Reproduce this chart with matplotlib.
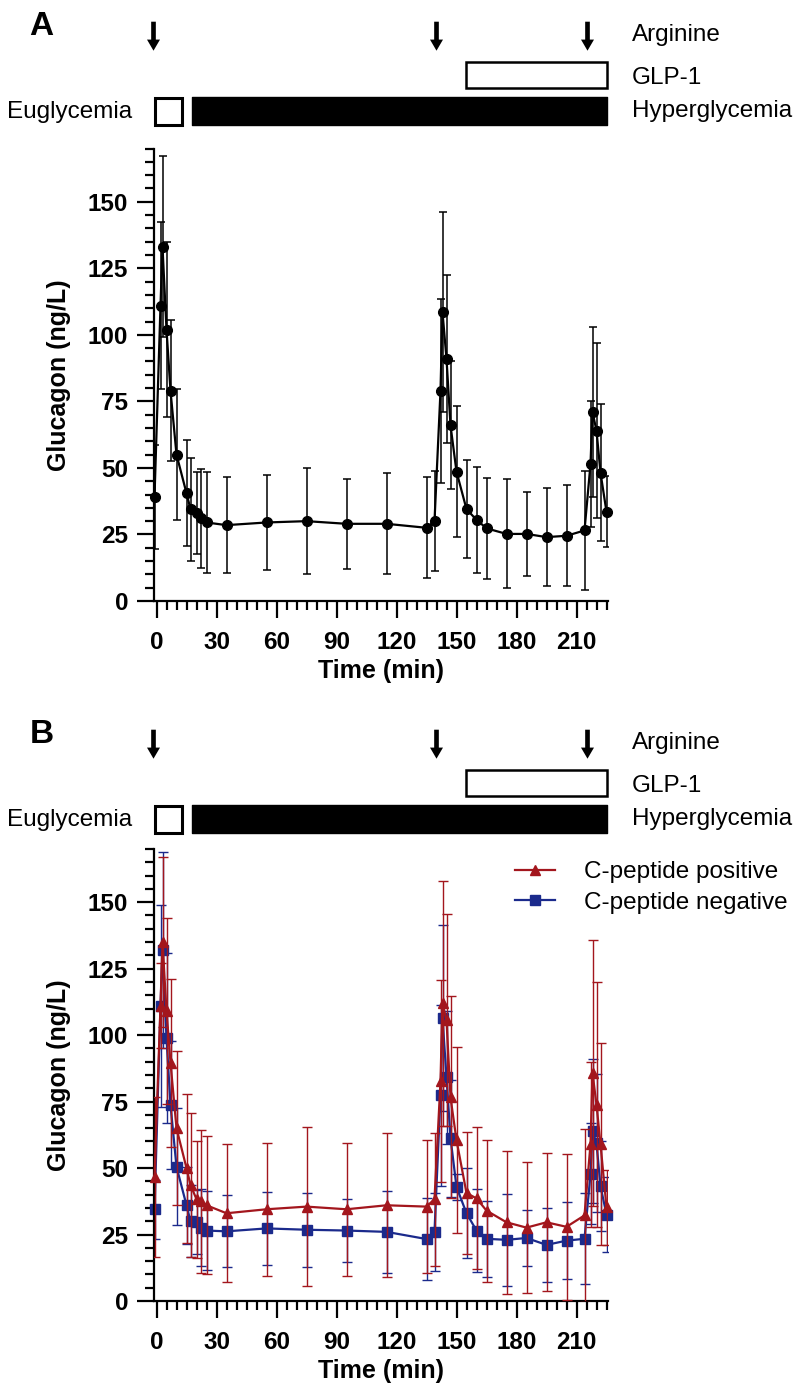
import matplotlib
matplotlib.use("Agg")
import matplotlib.pyplot as plt
from matplotlib.patches import Rectangle
from matplotlib.ticker import FixedLocator, MultipleLocator

plt.rcParams['font.family'] = ['Liberation Sans', 'DejaVu Sans']

# sampling times (min)
times = [-1, 2, 3, 5, 7, 10, 15, 17, 20, 22, 25, 35, 55, 75, 95, 115, 135, 139,
         142, 143, 145, 147, 150, 155, 160, 165, 175, 185, 195, 205, 214,
         217, 218, 220, 222, 225]

# panel A: all participants
glucagon_all = [39, 111, 133, 102, 79, 55, 40.5, 34.5, 33, 31, 29.5, 28.5, 29.5, 30, 29, 29,
                27.5, 30, 79, 108.5, 91, 66, 48.6, 34.5, 30.5, 27.3, 25.2, 25.2, 24, 24.5,
                26.5, 51.4, 71, 64, 48.2, 33.5]
err_all = [19.5, 31.5, 34, 33, 26.5, 24.5, 20, 19.3, 15.5, 18.5, 19, 18, 18, 20, 17, 19,
           19, 18.7, 34.5, 37.5, 31.5, 24, 24.6, 18.5, 20, 19, 20.5, 15.8, 18.5, 19,
           22.5, 23.7, 32, 33, 25.8, 13.4]

# panel B: C-peptide positive / negative
glucagon_pos = [46.7, 111, 135, 109, 89.6, 65, 50, 43.6, 38.3, 37.5, 36, 33, 34.5, 35.5, 34.5, 36,
                35.5, 38.3, 82.7, 112, 105.7, 76.6, 60.5, 40.6, 38.6, 34, 29.6, 27.6, 29.6, 27.9,
                32.2, 59, 85.8, 73.8, 59, 35.2]
err_pos = [30, 16, 32, 35, 31.5, 29, 28, 27, 22, 27, 26, 26, 25, 30, 25, 27,
           25, 25, 38, 46, 40, 38, 35, 23, 26.7, 26.7, 27, 24.7, 26, 27.5,
           32.5, 31, 50, 46, 38, 14]
glucagon_neg = [34.5, 111, 132, 98.8, 73.8, 50.5, 36, 30, 29.6, 27.6, 26.5, 26.2, 27.3, 26.8, 26.5, 26,
                23.3, 26, 77.3, 106.4, 84.2, 61.3, 42.9, 33, 26.5, 23.4, 23, 23.7, 21.1, 22.7,
                23.4, 47.8, 64, 59.3, 43.2, 32.5]
err_neg = [11, 38, 37, 32, 24, 22, 14.5, 13.5, 12, 14.5, 15, 13.5, 13.7, 14, 12, 15.4,
           15.4, 14.6, 34, 35, 25, 22, 5, 17, 15.7, 14.3, 17.4, 10.5, 13.8, 14.5,
           17.1, 19, 27, 26, 17, 14]

arginine_times = [-1.5, 140, 215.5]
label_pos = 'C-peptide positive'
label_neg = 'C-peptide negative'

W, H = 799, 1398
RED = '#a3161d'
BLUE = '#1b2a8c'

fig = plt.figure(figsize=(W / 100, H / 100), dpi=100)


def fx(px):
    return px / W


def fy(py):
    return 1 - py / H


XL, XR = 154, 607.7
XLIM = (-1.25, 225.6)


def make_axes(top, bottom):
    ax = fig.add_axes([fx(XL), fy(bottom), (XR - XL) / W, (bottom - top) / H])
    ax.set_xlim(*XLIM)
    ax.set_ylim(0, 170)
    for s in ['top', 'right']:
        ax.spines[s].set_visible(False)
    for s in ['left', 'bottom']:
        ax.spines[s].set_linewidth(1.6)
    ax.xaxis.set_major_locator(FixedLocator(range(0, 211, 30)))
    ax.xaxis.set_minor_locator(MultipleLocator(5))
    ax.yaxis.set_major_locator(FixedLocator(range(0, 151, 25)))
    ax.yaxis.set_minor_locator(MultipleLocator(5))
    ax.tick_params(which='major', length=12.5, width=1.6, labelsize=17.5)
    ax.tick_params(which='minor', length=6.5, width=1.6)
    ax.tick_params(axis='x', which='major', pad=9)
    ax.tick_params(axis='y', which='major', pad=6)
    for lab in ax.get_xticklabels() + ax.get_yticklabels():
        lab.set_fontweight('bold')
    ax.set_xlabel('Time (min)', fontsize=18, fontweight='bold')
    ax.set_ylabel('Glucagon (ng/L)', fontsize=18, fontweight='bold')
    ax.yaxis.set_label_coords((59 - XL) / (XR - XL), 0.5)
    ax.yaxis.label.set_va('center')
    return ax


def make_header(off, letter):
    hx = fig.add_axes([fx(XL), fy(off + 140), (XR - XL) / W, 140 / H])
    hx.set_xlim(*XLIM)
    hx.set_ylim(140, 0)
    hx.axis('off')
    for t in arginine_times:
        hx.annotate('', xy=(t, 50.7), xytext=(t, 21.7),
                    arrowprops=dict(arrowstyle='simple,head_length=1.0,head_width=1.17,tail_width=0.42',
                                    mutation_scale=8, color='black', lw=0, shrinkA=0, shrinkB=0),
                    annotation_clip=False)
    hx.add_patch(Rectangle((154.5, 62.3), 225 - 154.5, 88 - 62.3, facecolor='white',
                           edgecolor='black', lw=1.8, clip_on=False))
    hx.add_patch(Rectangle((17.6, 97.2), 225.3 - 17.6, 124.5 - 97.2, facecolor='black',
                           edgecolor='black', lw=1.0, joinstyle='round', clip_on=False))
    hx.add_patch(Rectangle((-0.85, 98.2), 12.65 + 0.85, 124.5 - 98.2, facecolor='white',
                           edgecolor='black', lw=2.2, clip_on=False))
    fig.text(fx(631.7), fy(off + 34.5), 'Arginine', fontsize=17.5, va='center', ha='left')
    fig.text(fx(631.7), fy(off + 77.5), 'GLP-1', fontsize=17.5, va='center', ha='left')
    fig.text(fx(631.7), fy(off + 111), 'Hyperglycemia', fontsize=17.5, va='center', ha='left')
    fig.text(fx(131.7), fy(off + 112), 'Euglycemia', fontsize=17.5, va='center', ha='right')
    fig.text(fx(41.5), fy(off + 35), letter, fontsize=24, fontweight='bold',
             va='baseline', ha='center')
    return hx


# panel A
axA = make_axes(148.5, 601)
make_header(0, 'A')
axA.errorbar(times, glucagon_all, yerr=err_all, fmt='none', ecolor='black',
             elinewidth=1.1, capsize=3, capthick=1.1)
axA.plot(times, glucagon_all, '-o', color='black', lw=1.6, ms=7, clip_on=False, zorder=3)

# panel B
axB = make_axes(849, 1301)
make_header(708, 'B')
axB.errorbar(times, glucagon_neg, yerr=err_neg, fmt='none', ecolor=BLUE,
             elinewidth=1.0, capsize=3.5, capthick=1.0, zorder=2)
hn, = axB.plot(times, glucagon_neg, '-s', color=BLUE, lw=1.6, ms=6.5, clip_on=False,
               zorder=2.5, label=label_neg)
axB.errorbar(times, glucagon_pos, yerr=err_pos, fmt='none', ecolor=RED,
             elinewidth=1.0, capsize=3.5, capthick=1.0, zorder=3)
hp, = axB.plot(times, glucagon_pos, '-^', color=RED, lw=1.6, ms=7.5, clip_on=False,
               zorder=3.5, label=label_pos)
axB.legend(handles=[hp, hn], loc='upper left', bbox_to_anchor=(fx(515), fy(861)),
           bbox_transform=fig.transFigure, frameon=False, fontsize=17.5,
           handlelength=1.65, handletextpad=1.2, borderpad=0, borderaxespad=0,
           labelspacing=0.35, numpoints=1)

fig.savefig('out.png', dpi=100)
